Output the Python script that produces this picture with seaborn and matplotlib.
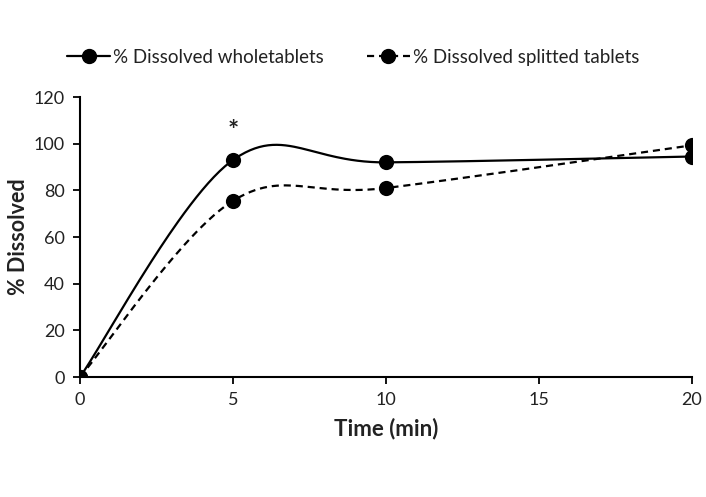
import numpy as np
import pandas as pd
import matplotlib
matplotlib.use("Agg")
import matplotlib.pyplot as plt
from matplotlib.lines import Line2D
import seaborn as sns

time_min = [0, 5, 10, 20]
whole_tablets = [0, 93, 92, 94.5]
split_tablets = [0, 75.5, 81, 99.3]
labels = ["% Dissolved wholetablets", "% Dissolved splitted tablets"]


def excel_smooth(x, y, n=60):
    # Excel-like smoothed line: cubic Bezier with Catmull-Rom control points
    px = np.array(x, float)
    py = np.array(y, float)
    xs, ys = [], []
    t = np.linspace(0, 1, n)
    for i in range(len(px) - 1):
        i0 = max(i - 1, 0)
        i3 = min(i + 2, len(px) - 1)
        c1x = px[i] + (px[i + 1] - px[i0]) / 6
        c1y = py[i] + (py[i + 1] - py[i0]) / 6
        c2x = px[i + 1] - (px[i3] - px[i]) / 6
        c2y = py[i + 1] - (py[i3] - py[i]) / 6
        b0, b1, b2, b3 = (1 - t) ** 3, 3 * t * (1 - t) ** 2, 3 * t ** 2 * (1 - t), t ** 3
        xs.append(b0 * px[i] + b1 * c1x + b2 * c2x + b3 * px[i + 1])
        ys.append(b0 * py[i] + b1 * c1y + b2 * c2y + b3 * py[i + 1])
    return np.concatenate(xs), np.concatenate(ys)


sns.set_style("ticks")
plt.rcParams["font.family"] = ["Lato", "DejaVu Sans"]

fig = plt.figure(figsize=(7.06, 4.97), dpi=100)
ax = fig.add_axes([0.1133, 0.2414, 0.8667, 0.5634])

points = pd.DataFrame({"time": time_min * 2,
                       "value": whole_tablets + split_tablets,
                       "series": [labels[0]] * 4 + [labels[1]] * 4})

styles = {labels[0]: "-", labels[1]: (0, (3.2, 2.2))}
for name, vals in zip(labels, [whole_tablets, split_tablets]):
    cx, cy = excel_smooth(time_min, vals)
    curve = pd.DataFrame({"time": cx, "value": cy})
    sns.lineplot(data=curve, x="time", y="value", ax=ax, color="black",
                 linewidth=1.6, linestyle=styles[name], sort=False,
                 estimator=None)

sns.scatterplot(data=points, x="time", y="value", ax=ax, color="black",
                s=120, edgecolor="black", linewidth=0, legend=False, zorder=5)

ax.text(5, 100.5, "*", ha="center", va="bottom", fontsize=19,
        fontweight="bold", color="#222222")

ax.set_xlim(0, 20)
ax.set_ylim(0, 120)
ax.set_xticks([0, 5, 10, 15, 20])
ax.set_yticks(range(0, 121, 20))
ax.tick_params(axis="both", labelsize=13, length=5, width=1.3, color="black",
               direction="out", pad=6, labelcolor="#222222")
for side in ["left", "bottom"]:
    ax.spines[side].set_linewidth(1.5)
    ax.spines[side].set_color("black")
ax.spines["top"].set_visible(False)
ax.spines["right"].set_visible(False)
ax.set_xlabel("Time (min)", fontsize=16, fontweight="bold", labelpad=7,
              color="#222222")
ax.set_ylabel("% Dissolved", fontsize=15.5, fontweight="bold", labelpad=3,
              color="#222222")

handles = [Line2D([0], [0], color="black", lw=1.6, linestyle=styles[n],
                  marker="o", markersize=10) for n in labels]
fig.legend(handles, labels, loc="center", bbox_to_anchor=(0.5, 0.885), ncol=2,
           frameon=False, fontsize=13.5, handlelength=2.3, handletextpad=0.15,
           columnspacing=2.3, labelcolor="#222222")

fig.savefig("out.png", dpi=100)
